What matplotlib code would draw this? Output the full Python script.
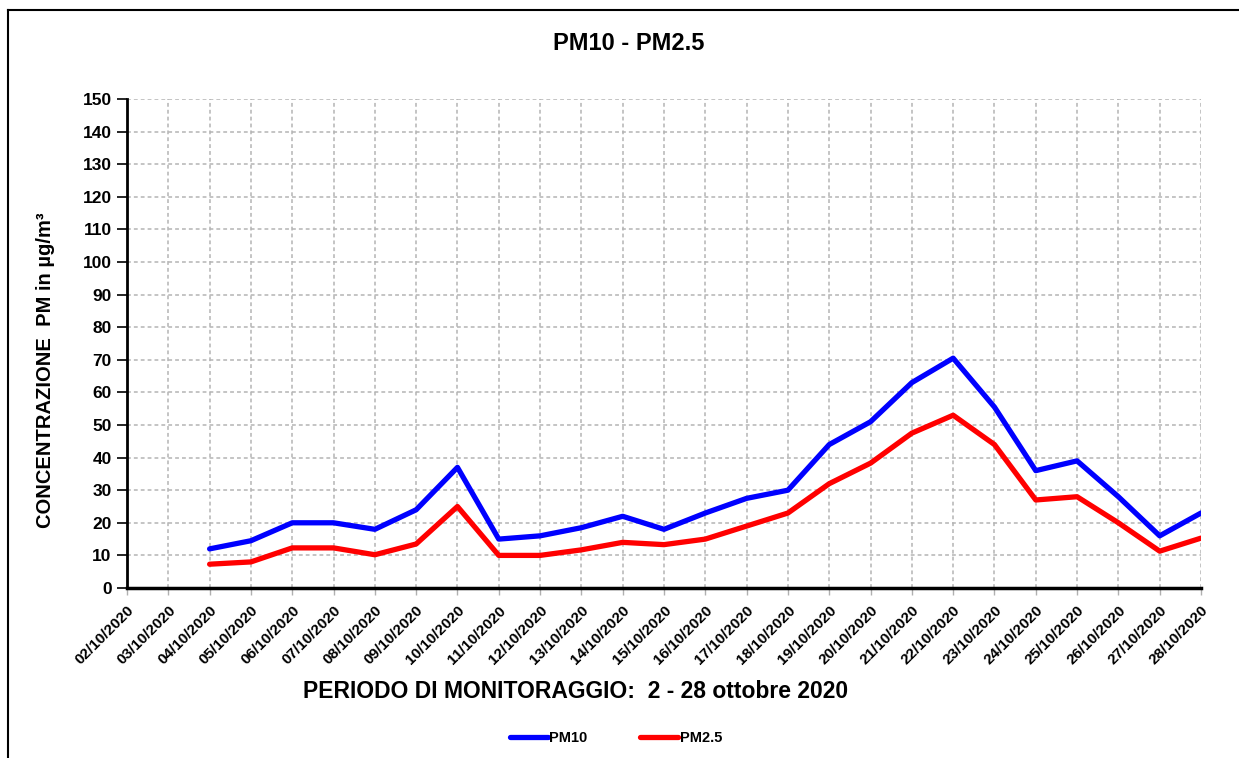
import matplotlib
matplotlib.use("Agg")
import matplotlib.pyplot as plt
from matplotlib.lines import Line2D

plt.rcParams['font.family'] = ['Liberation Sans', 'DejaVu Sans']

dates = [f"{d:02d}/10/2020" for d in range(2, 29)]
data_dates = [f"{d:02d}/10/2020" for d in range(4, 29)]
pm10 = [12, 14.5, 20, 20, 18, 24, 37, 15, 16, 18.5, 22, 18, 23, 27.5, 30,
        44, 51, 63, 70.5, 55.5, 36, 39, 28, 16, 23]
pm25 = [7.3, 8, 12.3, 12.3, 10.2, 13.5, 25, 10, 10, 11.7, 14, 13.3, 15, 19, 23,
        32, 38.3, 47.5, 53, 44, 27, 28, 20, 11.3, 15.3]
yticks = list(range(0, 151, 10))

fig = plt.figure(figsize=(12.39, 7.58), dpi=100)
ax = fig.add_axes([127/1239, 1-588/758, (1201-127)/1239, (588-99)/758])

xpos = {d: i for i, d in enumerate(dates)}
xs = [xpos[d] for d in data_dates]
ax.plot(xs, pm10, color='#0000ff', lw=3.8, solid_capstyle='round', solid_joinstyle='round', zorder=3)
ax.plot(xs, pm25, color='#ff0000', lw=3.8, solid_capstyle='round', solid_joinstyle='round', zorder=3)

ax.set_xlim(0, len(dates)-1)
ax.set_ylim(0, 150)
ax.set_yticks(yticks)
ax.set_yticklabels([str(v) for v in yticks], fontsize=12.5, fontweight='bold')
ax.set_xticks(range(len(dates)))
ax.set_xticklabels(dates, rotation=45, ha='right', rotation_mode='anchor',
                   fontsize=11, fontweight='bold')
ax.tick_params(axis='y', direction='out', length=7, width=1.2, pad=4)
ax.tick_params(axis='x', direction='out', length=5, width=1, color='#b0b0b0', pad=6)

ax.grid(True, color='#b4b4b4', linestyle=(0, (2.5, 2)), linewidth=1.1)
for s in ['top', 'right']:
    ax.spines[s].set_visible(False)
ax.spines['left'].set_linewidth(2)
ax.spines['bottom'].set_linewidth(2.5)

fig.text(629/1239, 1-44/758, 'PM10 - PM2.5', ha='center', va='center', fontsize=17, fontweight='bold')
fig.text(46/1239, 1-370/758, 'CONCENTRAZIONE  PM in µg/m³', rotation=90, ha='center', va='center',
         fontsize=14.5, fontweight='bold')
fig.text(576/1239, 1-692/758, 'PERIODO DI MONITORAGGIO:  2 - 28 ottobre 2020', ha='center', va='center',
         fontsize=16.5, fontweight='bold')

handles = [Line2D([], [], color='#0000ff', lw=3.8, solid_capstyle='round'),
           Line2D([], [], color='#ff0000', lw=3.8, solid_capstyle='round')]
fig.legend(handles, ['PM10', 'PM2.5'], loc='center', bbox_to_anchor=(616/1239, 1-738/758),
           ncol=2, frameon=False, handlelength=2.6, handletextpad=0.1, columnspacing=3.6,
           prop={'size': 10.5, 'weight': 'bold'})

# frame lines
fig.add_artist(Line2D([8/1239, 1], [1-10/758, 1-10/758], color='black', lw=1.5, transform=fig.transFigure))
fig.add_artist(Line2D([8/1239, 8/1239], [0, 1-10/758], color='black', lw=1.5, transform=fig.transFigure))

fig.savefig('out.png', dpi=100)
